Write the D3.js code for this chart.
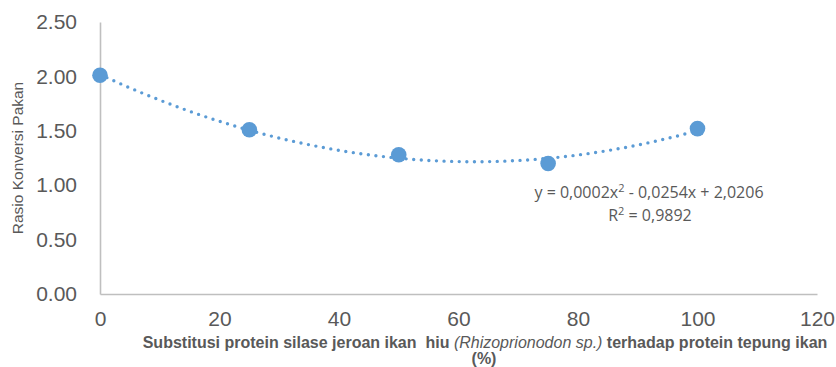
<!DOCTYPE html>
<html>
<head>
<meta charset="utf-8">
<script src="https://cdn.jsdelivr.net/npm/d3@7"></script>
<style>
  body { margin: 0; background: #fff; }
  svg { display: block; }
</style>
</head>
<body>
<div id="chart_area"></div>
<script>
// data
var substitusi = [0, 25, 50, 75, 100];
var rasio = [2.01, 1.51, 1.28, 1.20, 1.52];
var xTicks = [0, 20, 40, 60, 80, 100, 120];
var yTicks = [0, 0.5, 1, 1.5, 2, 2.5];
var eqLine1 = "y = 0,0002x";
var eqLine1b = " - 0,0254x + 2,0206";
var eqLine2 = "R";
var eqLine2b = " = 0,9892";

var frame_width = 836;
var frame_height = 367;
var margin = {top: 22, right: 19, bottom: 73, left: 100};
var canvas_width = frame_width - margin.left - margin.right;
var canvas_height = frame_height - margin.top - margin.bottom;

var frame = d3.select("#chart_area").append("svg")
    .attr("width", frame_width)
    .attr("height", frame_height);
var canvas = frame.append("g")
    .attr("transform", "translate(" + margin.left + "," + margin.top + ")");

var xScale = d3.scaleLinear().domain([0, 120]).range([0, canvas_width]);
var yScale = d3.scaleLinear().domain([0, 2.5]).range([canvas_height, 0]);

var grey = "#595959";
var blue = "#5B9BD5";

// axes
var xAxis = d3.axisBottom(xScale).tickValues(xTicks).tickSize(0).tickPadding(17)
    .tickFormat(d3.format("d"));
var yAxis = d3.axisLeft(yScale).tickValues(yTicks).tickSize(0).tickPadding(23)
    .tickFormat(d3.format(".2f"));

var gx = canvas.append("g")
    .attr("transform", "translate(0," + canvas_height + ")")
    .call(xAxis);
var gy = canvas.append("g").call(yAxis);

[gx, gy].forEach(function(g) {
    g.select(".domain").attr("stroke", "#BFBFBF").attr("stroke-width", 1.6);
    g.selectAll("text")
        .attr("fill", grey)
        .style("font-family", "'Liberation Sans', Arial, sans-serif")
        .style("font-size", "21px");
});
gx.selectAll("text").attr("dy", "0.71em");

// quadratic least-squares trendline (what the spreadsheet draws)
function fitQuad(xs, ys) {
    var n = xs.length, s = [0, 0, 0, 0, 0], t = [0, 0, 0];
    for (var i = 0; i < n; i++) {
        var p = 1;
        for (var k = 0; k < 5; k++) { s[k] += p; if (k < 3) t[k] += p * ys[i]; p *= xs[i]; }
    }
    var M = [[s[0], s[1], s[2], t[0]], [s[1], s[2], s[3], t[1]], [s[2], s[3], s[4], t[2]]];
    for (var c = 0; c < 3; c++) {
        for (var r = c + 1; r < 3; r++) {
            var f = M[r][c] / M[c][c];
            for (var j = c; j < 4; j++) M[r][j] -= f * M[c][j];
        }
    }
    var coef = [0, 0, 0];
    for (var r2 = 2; r2 >= 0; r2--) {
        var v = M[r2][3];
        for (var j2 = r2 + 1; j2 < 3; j2++) v -= M[r2][j2] * coef[j2];
        coef[r2] = v / M[r2][r2];
    }
    return coef; // c0 + c1 x + c2 x^2
}
var coef = fitQuad(substitusi, rasio);
var trend = d3.range(0, 100.5, 1).map(function(x) {
    return {x: x, y: coef[0] + coef[1] * x + coef[2] * x * x};
});

canvas.append("path")
    .datum(trend)
    .attr("fill", "none")
    .attr("stroke", blue)
    .attr("stroke-width", 3.4)
    .attr("stroke-linecap", "round")
    .attr("stroke-dasharray", "0 7.6")
    .attr("d", d3.line()
        .x(function(d) { return xScale(d.x); })
        .y(function(d) { return yScale(d.y); })
        .curve(d3.curveMonotoneX));

// points
canvas.selectAll("circle.data_point")
    .data(substitusi.map(function(x, i) { return {x: x, y: rasio[i]}; }))
    .enter().append("circle")
    .attr("class", "data_point")
    .attr("cx", function(d) { return xScale(d.x); })
    .attr("cy", function(d) { return yScale(d.y); })
    .attr("r", 7.8)
    .style("fill", blue);

// trendline label
var eqFont = "'Open Sans', 'Noto Sans', sans-serif";
var eq = frame.append("text")
    .attr("x", 649).attr("y", 198)
    .attr("text-anchor", "middle")
    .attr("fill", grey)
    .style("font-family", eqFont)
    .style("font-size", "16px");
eq.append("tspan").text(eqLine1);
eq.append("tspan").attr("font-size", "11px").attr("dy", "-6").text("2");
eq.append("tspan").attr("dy", "6").text(eqLine1b);

var r2 = frame.append("text")
    .attr("x", 650).attr("y", 221)
    .attr("text-anchor", "middle")
    .attr("fill", grey)
    .style("font-family", eqFont)
    .style("font-size", "16px");
r2.append("tspan").text(eqLine2);
r2.append("tspan").attr("font-size", "11px").attr("dy", "-6").text("2");
r2.append("tspan").attr("dy", "6").text(eqLine2b);

// axis titles
frame.append("text")
    .attr("transform", "translate(23,158) rotate(-90)")
    .attr("text-anchor", "middle")
    .attr("fill", grey)
    .style("font-family", "'Liberation Sans', Arial, sans-serif")
    .style("font-size", "15.5px")
    .text("Rasio Konversi Pakan");

var xt = frame.append("text")
    .attr("x", 485).attr("y", 348)
    .attr("text-anchor", "middle")
    .attr("fill", grey)
    .style("font-family", "'Liberation Sans', Arial, sans-serif")
    .style("font-size", "16px")
    .style("white-space", "pre");
xt.append("tspan").attr("font-weight", "bold").text("Substitusi protein silase jeroan ikan  hiu ");
xt.append("tspan").attr("font-style", "italic").text("(Rhizoprionodon sp.)");
xt.append("tspan").attr("font-weight", "bold").text(" terhadap protein tepung ikan");

frame.append("text")
    .attr("x", 484).attr("y", 364)
    .attr("text-anchor", "middle")
    .attr("fill", grey)
    .attr("font-weight", "bold")
    .style("font-family", "'Liberation Sans', Arial, sans-serif")
    .style("font-size", "16px")
    .text("(%)");
</script>
</body>
</html>
